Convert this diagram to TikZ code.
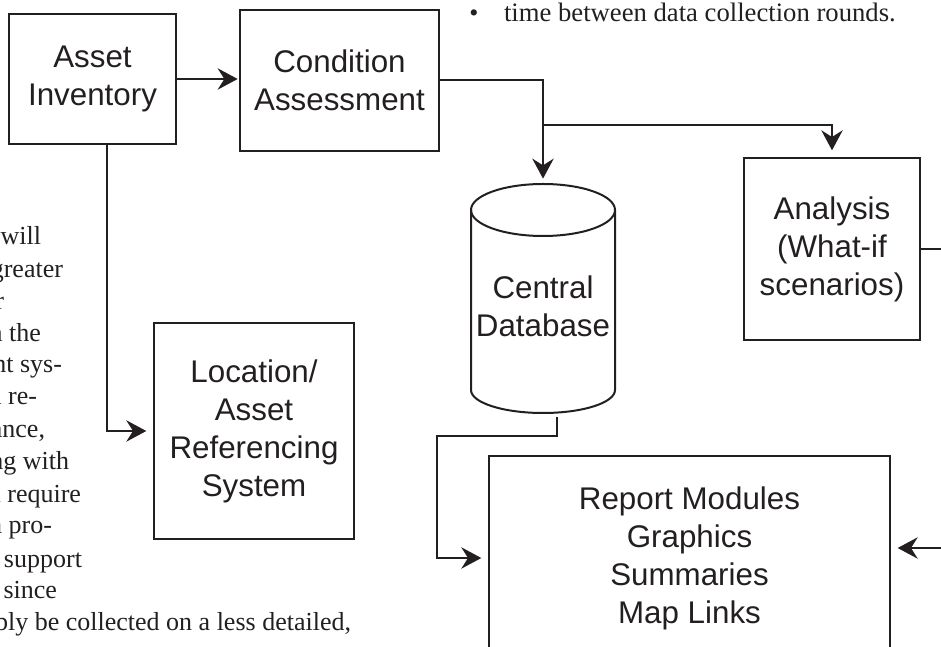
\documentclass[tikz,border=0pt]{standalone}
\usepackage{fontspec}
\setmainfont{Liberation Serif}
\newfontfamily\boxfont{Liberation Sans}
\usepackage{xcolor}
\usetikzlibrary{arrows.meta,positioning,calc}
\definecolor{inkgray}{HTML}{231F20}

\begin{document}
\begin{tikzpicture}[x=0.75pt,y=0.75pt,color=inkgray,line width=1.5pt,
        >={Stealth[length=15pt,width=16pt,inset=5pt]},
        blockbox/.style={draw, align=center, inner sep=0pt, font=\boxfont\fontsize{23.5}{28.5}\selectfont},
        bodytext/.style={inner sep=0pt, anchor=base east, font=\fontsize{19.5}{24}\selectfont}]
        \useasboundingbox (0,0) rectangle (941,646);
        \clip (0,0) rectangle (941,646);

        \node[blockbox, minimum width=125.25pt, minimum height=97.5pt] (inv) at (92.5,567) {Asset\\Inventory};
        \node[blockbox, minimum width=149.25pt, minimum height=105.75pt] (cond) at (339.5,565.5) {Condition\\Assessment};
        \node[blockbox, minimum width=150pt, minimum height=162pt] (loc) at (254,215) {Location/\\Asset\\Referencing\\System};
        \node[blockbox, minimum width=132pt, minimum height=136.5pt] (ana) at (832,397) {Analysis\\(What-if\\scenarios)};
        \node[blockbox, minimum width=300.75pt, minimum height=153pt] (rep) at (689.5,88) {Report Modules\\Graphics\\Summaries\\Map Links};

        % database drum
        \draw (543,436) ellipse [x radius=72, y radius=26];
        \draw (471,436) -- (471,256) arc[start angle=180, end angle=360, x radius=72, y radius=23] -- (615,436);
        \node[blockbox, draw=none] (db) at (543,340) {Central\\Database};
        \coordinate (dbtop) at (543,462);
        \coordinate (dbbot) at (557,229);
        \coordinate (split) at (543,521);

        \draw[->, shorten >=1pt] (inv.east) -- (inv.east -| cond.west);
        \draw[->, shorten >=4pt] (cond.east) -| (dbtop);
        \draw[->, shorten >=5pt] (split) -| (ana.north);
        \draw[->, shorten >=5pt] ([xshift=10.9pt]inv.south) |- (loc.west);
        \draw[->, shorten >=5pt] (dbbot) -- ++(0,-19) -- ++(-120,0) |- (rep.west);
        \draw[->, shorten >=5pt] (ana.east) -- ++(40,0) |- ([yshift=7.5pt]rep.east);

        \node[bodytext, anchor=base] (bullet) at (474,624) {•};
        \node[bodytext, anchor=base west, font=\fontsize{20}{24}\selectfont] (rounds) at (503,624) {time between data collection rounds.};
        \foreach \yb/\xe/\words [count=\k] in {401/42/{will}, 368/64/{greater}, 336/5/{or},
                304/42/{in the}, 273/63/{ment sys-}, 241/38/{a re-}, 208/46/{nance,},
                176/70/{ing with}, 144/82/{d require}, 113/53/{a pro-}, 79/83/{o support},
                48/58/{t since}, 16/352/{probably be collected on a less detailed,}}
            \node[bodytext] (body\k) at (\xe,\yb) {\words};
    \end{tikzpicture}
\end{document}
